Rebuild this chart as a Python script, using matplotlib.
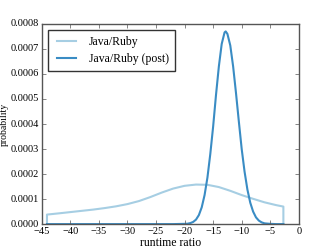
import matplotlib
matplotlib.use("Agg")
import matplotlib.pyplot as plt
from matplotlib.ticker import FormatStrFormatter

plt.style.use("classic")
plt.rcParams["font.family"] = ["Liberation Serif", "DejaVu Serif"]

# light curve: prior-ish density
ratio_x = [-44.1, -44.1, -42, -40, -38, -36, -34, -32, -30, -28, -26, -24,
           -22, -20, -18, -16, -14, -12, -10, -8, -6, -4, -2.7, -2.7]
ratio_y = [0.0, 0.000038, 0.000043, 0.000048, 0.000053, 0.000058, 0.000064,
           0.000071, 0.00008, 0.000092, 0.000108, 0.000126, 0.000142,
           0.000153, 0.000158, 0.000157, 0.000148, 0.000133, 0.000116,
           0.000101, 0.000087, 0.000076, 0.00007, 0.0]

# dark curve: posterior density
post_x = [-44.1, -22, -20, -19.5, -19, -18.5, -18, -17.5, -17, -16.5, -16,
          -15.5, -15, -14.5, -14, -13.5, -13, -12.8, -12.5, -12, -11.5, -11,
          -10.5, -10, -9.5, -9, -8.5, -8, -7.5, -7, -6.5, -6, -5, -4, -2.7]
post_y = [0.0, 0.0, 0.000001, 0.0000015, 0.000004, 0.0000086, 0.000018,
          0.000036, 0.000067, 0.000116, 0.000186, 0.00028, 0.00039, 0.000516,
          0.00063, 0.00072, 0.000766, 0.00077, 0.00076, 0.000714, 0.00063,
          0.000524, 0.00041, 0.0003, 0.00021, 0.000138, 0.0000855, 0.00005,
          0.000027, 0.000014, 0.0000069, 0.000003, 0.000001, 0.0, 0.0]

labels = ["Java/Ruby", "Java/Ruby (post)"]

fig = plt.figure(figsize=(3.32, 2.49), dpi=100, facecolor="white")
ax = fig.add_subplot(111)
ax.plot(ratio_x, ratio_y, color="#a6cee3", lw=1.5, label=labels[0])
ax.plot(post_x, post_y, color="#3a8cc4", lw=1.5, label=labels[1])

ax.set_xlim(-45, 0)
ax.set_ylim(0, 0.0008)
ax.set_xticks(range(-45, 1, 5))
ax.set_yticks([i * 0.0001 for i in range(9)])
ax.yaxis.set_major_formatter(FormatStrFormatter("%.4f"))
ax.tick_params(labelsize=7.5, length=3, pad=2, color="#555555")
for s in ax.spines.values():
    s.set_color("#555555")
ax.set_xlabel("runtime ratio", fontsize=8.5, labelpad=1)
ax.set_ylabel("probability", fontsize=7, labelpad=1)

leg = ax.legend(loc="upper left", fontsize=8.5, handlelength=2.2,
                borderpad=0.5, labelspacing=0.45, fancybox=False)
leg.get_frame().set_edgecolor("#333333")

fig.subplots_adjust(left=0.126, right=0.9, bottom=0.1, top=0.904)
fig.savefig("out.png", dpi=100)
